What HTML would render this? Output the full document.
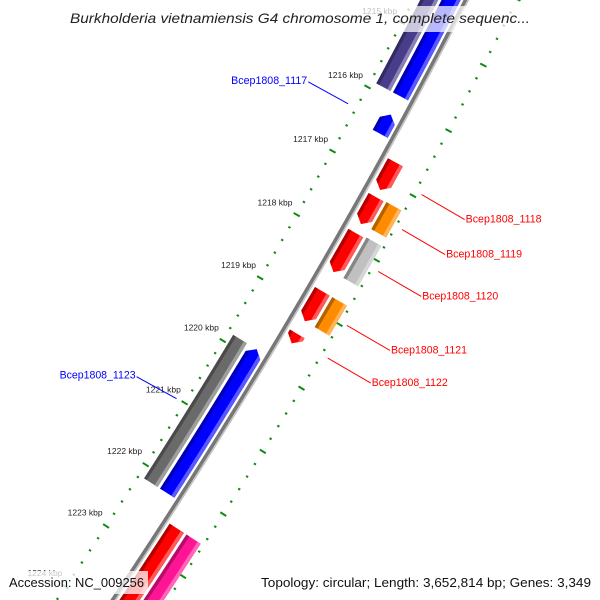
<!DOCTYPE html>
<html><head><meta charset="utf-8"><style>
html,body{margin:0;padding:0;background:#fff;width:600px;height:600px;overflow:hidden;}
svg{display:block;font-family:"Liberation Sans","DejaVu Sans",sans-serif;overflow:hidden;}
</style></head><body>
<svg id="map" width="600" height="600" viewBox="0 0 600 600" xmlns="http://www.w3.org/2000/svg">
<defs id="defs"></defs>
<g id="ticks"></g>
<g id="backbone"></g>
<g id="features"></g>
<g id="labels"></g>
<rect x="62" y="6" width="476" height="26" fill="#fff" fill-opacity="0.72"/>
<text x="70" y="23" font-size="14" font-style="italic" fill="#222" textLength="460" lengthAdjust="spacingAndGlyphs">Burkholderia vietnamiensis G4 chromosome 1, complete sequenc...</text>
<rect x="0" y="571" width="148" height="23" fill="#fff" fill-opacity="0.75"/>
<text x="9" y="587" font-size="13" fill="#111" textLength="135" lengthAdjust="spacingAndGlyphs">Accession: NC_009256</text>
<rect x="255" y="571" width="345" height="23" fill="#fff" fill-opacity="0.75"/>
<text x="261" y="587" font-size="13" fill="#111" textLength="330" lengthAdjust="spacingAndGlyphs">Topology: circular; Length: 3,652,814 bp; Genes: 3,349</text>
</svg>
<script>
// ---- data ----
const majorTicks = [1214, 1215, 1216, 1217, 1218, 1219, 1220, 1221, 1222, 1223, 1224, 1225];
const tickLabels = ["1214 kbp","1215 kbp","1216 kbp","1217 kbp","1218 kbp","1219 kbp","1220 kbp","1221 kbp","1222 kbp","1223 kbp","1224 kbp","1225 kbp"];
const fwdStarts = [1216.72, 1217.26, 1217.82, 1218.73, 1219.40, 1222.50];
const fwdEnds   = [1217.15, 1217.68, 1218.43, 1219.20, 1219.55, 1225.50];
const fwdCogStarts = [1217.25, 1217.80, 1218.73, 1222.50];
const fwdCogEnds   = [1217.67, 1218.43, 1219.20, 1225.50];
const fwdCogColors = ["#ff8c00", "#c0c0c0", "#ff8c00", "#ff1493"];
const revStarts = [1213.50, 1216.18, 1219.86];
const revEnds   = [1215.90, 1216.48, 1222.17];
const revCogStarts = [1213.50, 1219.86];
const revCogEnds   = [1215.90, 1222.17];
const revCogColors = ["#483d8b", "#6a6a6a"];
const fwdLabelNames = ["Bcep1808_1118","Bcep1808_1119","Bcep1808_1120","Bcep1808_1121","Bcep1808_1122"];
const fwdLabelPos = [1216.93, 1217.47, 1218.12, 1218.96, 1219.47];
const revLabelNames = ["Bcep1808_1117","Bcep1808_1123"];
const revLabelPos = [1216.33, 1221.01];

// ---- geometry (circular map axis) ----
const NS = "http://www.w3.org/2000/svg";
const CX = -4873, CY = -2737, R = 6000;
const TH0 = 31.13 * Math.PI / 180, DTH = 0.7028 * Math.PI / 180;
function P(k, r) { const t = TH0 + (k - 1220) * DTH; return [CX + (R + r) * Math.cos(t), CY + (R + r) * Math.sin(t)]; }
function arcPts(k1, k2, r) { const n = Math.max(2, Math.ceil(Math.abs(k2 - k1) / 0.05)); const a = []; for (let i = 0; i <= n; i++) a.push(P(k1 + (k2 - k1) * i / n, r)); return a; }
function ptsStr(a) { return a.map(p => p[0].toFixed(2) + "," + p[1].toFixed(2)).join(" "); }
function mk(tag, parent) { const e = document.createElementNS(NS, tag); parent.appendChild(e); return e; }
function shade(hex, f) { let c = parseInt(hex.slice(1), 16); let r = c >> 16, g = (c >> 8) & 255, b = c & 255;
  if (f < 0) { r *= 1 + f; g *= 1 + f; b *= 1 + f; } else { r += (255 - r) * f; g += (255 - g) * f; b += (255 - b) * f; }
  return "rgb(" + Math.round(r) + "," + Math.round(g) + "," + Math.round(b) + ")"; }
function shapePts(k1, k2, r1, r2, arrow) {
  const al = 0.1, rm = (r1 + r2) / 2;
  if (arrow === 1) { const e = Math.max(k1, k2 - al); return [...arcPts(k1, e, r2), P(k2, rm), ...arcPts(e, k1, r1)]; }
  if (arrow === -1) { const s = Math.min(k2, k1 + al); return [P(k1, rm), ...arcPts(s, k2, r2), ...arcPts(k2, s, r1)]; }
  return [...arcPts(k1, k2, r2), ...arcPts(k2, k1, r1)];
}
let clipId = 0;
const defs = document.getElementById("defs");
function feature(k1, k2, r1, r2, color, arrow, name) {
  const g = mk("g", document.getElementById("features"));
  
  
  const pts = ptsStr(shapePts(k1, k2, r1, r2, arrow));
  const cp = mk("clipPath", defs); const id = "c" + (clipId++); cp.setAttribute("id", id);
  const cpp = mk("polygon", cp); cpp.setAttribute("points", pts);
  const body = mk("polygon", g);
  
  
  body.setAttribute("points", pts); body.setAttribute("fill", color);
  const w = r2 - r1;
  const dark = mk("polygon", g);
  
  
  dark.setAttribute("points", ptsStr([...arcPts(k1 - 0.2, k2 + 0.2, r1 + w * 0.2), ...arcPts(k2 + 0.2, k1 - 0.2, r1 - 2)]));
  dark.setAttribute("fill", shade(color, -0.3)); dark.setAttribute("clip-path", "url(#" + id + ")");
  const light = mk("polygon", g);
  
  
  light.setAttribute("points", ptsStr([...arcPts(k1 - 0.2, k2 + 0.2, r2 + 2), ...arcPts(k2 + 0.2, k1 - 0.2, r2 - w * 0.22)]));
  light.setAttribute("fill", shade(color, 0.35)); light.setAttribute("clip-path", "url(#" + id + ")");
}

// ticks
const tg = document.getElementById("ticks");
for (let k = 1213; k <= 1226.001; k += 0.2) {
  const kk = Math.round(k * 10) / 10;
  const major = Math.abs(kk - Math.round(kk)) < 0.01;
  const len = major ? 3.5 : 1.2;
  [[-47, "inner"], [45, "outer"]].forEach(([rr, side]) => {
    const a = P(kk, rr - len), b = P(kk, rr + len);
    const l = mk("line", tg);
    
    
    l.setAttribute("x1", a[0]); l.setAttribute("y1", a[1]); l.setAttribute("x2", b[0]); l.setAttribute("y2", b[1]);
    l.setAttribute("stroke", "#108a10"); l.setAttribute("stroke-width", "2");
  });
}
majorTicks.forEach((k, i) => {
  const p = P(k, -72);
  const t = mk("text", tg);
  
  
  t.setAttribute("x", p[0]); t.setAttribute("y", p[1] + 3); t.setAttribute("text-anchor", "middle");
  t.setAttribute("font-size", "8.5"); t.setAttribute("fill", "#222");
  t.textContent = tickLabels[i];
});

// backbone
const bb = document.getElementById("backbone");
const b1 = mk("polyline", bb);


b1.setAttribute("points", ptsStr(arcPts(1212, 1227, -0.8))); b1.setAttribute("fill", "none");
b1.setAttribute("stroke", "#777"); b1.setAttribute("stroke-width", "3.6");
const b2 = mk("polyline", bb);


b2.setAttribute("points", ptsStr(arcPts(1212, 1227, 1.8))); b2.setAttribute("fill", "none");
b2.setAttribute("stroke", "#c4c4c4"); b2.setAttribute("stroke-width", "1.6");

// features
revCogStarts.forEach((s, i) => feature(s, revCogEnds[i], -41, -25, revCogColors[i], 0, 'reverse-cog-feature'));
revStarts.forEach((s, i) => feature(s, revEnds[i], -22, -5, "#0000ff", -1, 'reverse-cds-feature'));
fwdStarts.forEach((s, i) => feature(s, fwdEnds[i], 5, 22, "#ff0000", 1, 'forward-cds-feature'));
fwdCogStarts.forEach((s, i) => feature(s, fwdCogEnds[i], 25, 42, fwdCogColors[i], 0, 'forward-cog-feature'));

// labels
const lg = document.getElementById("labels");
fwdLabelNames.forEach((n, i) => {
  const a = P(fwdLabelPos[i], 52); const b = [a[0] + 43, a[1] + 25];
  const l = mk("line", lg);
  
  
  l.setAttribute("x1", a[0]); l.setAttribute("y1", a[1]); l.setAttribute("x2", b[0]); l.setAttribute("y2", b[1]);
  l.setAttribute("stroke", "#ff0000"); l.setAttribute("stroke-width", "1");
  const t = mk("text", lg);
  
  
  t.setAttribute("x", b[0] + 1); t.setAttribute("y", b[1] + 3); t.setAttribute("font-size", "11");
  t.setAttribute("fill", "#ff0000"); t.setAttribute("textLength", "76"); t.setAttribute("lengthAdjust", "spacingAndGlyphs");
  t.textContent = n;
});
revLabelNames.forEach((n, i) => {
  const a = P(revLabelPos[i], -56); const b = [a[0] - 40, a[1] - 22];
  const l = mk("line", lg);
  
  
  l.setAttribute("x1", a[0]); l.setAttribute("y1", a[1]); l.setAttribute("x2", b[0]); l.setAttribute("y2", b[1]);
  l.setAttribute("stroke", "#0000ff"); l.setAttribute("stroke-width", "1");
  const t = mk("text", lg);
  
  
  t.setAttribute("x", b[0] - 1); t.setAttribute("y", b[1] + 2); t.setAttribute("font-size", "11");
  t.setAttribute("text-anchor", "end");
  t.setAttribute("fill", "#0000ff"); t.setAttribute("textLength", "76"); t.setAttribute("lengthAdjust", "spacingAndGlyphs");
  t.textContent = n;
});
</script>
</body></html>
